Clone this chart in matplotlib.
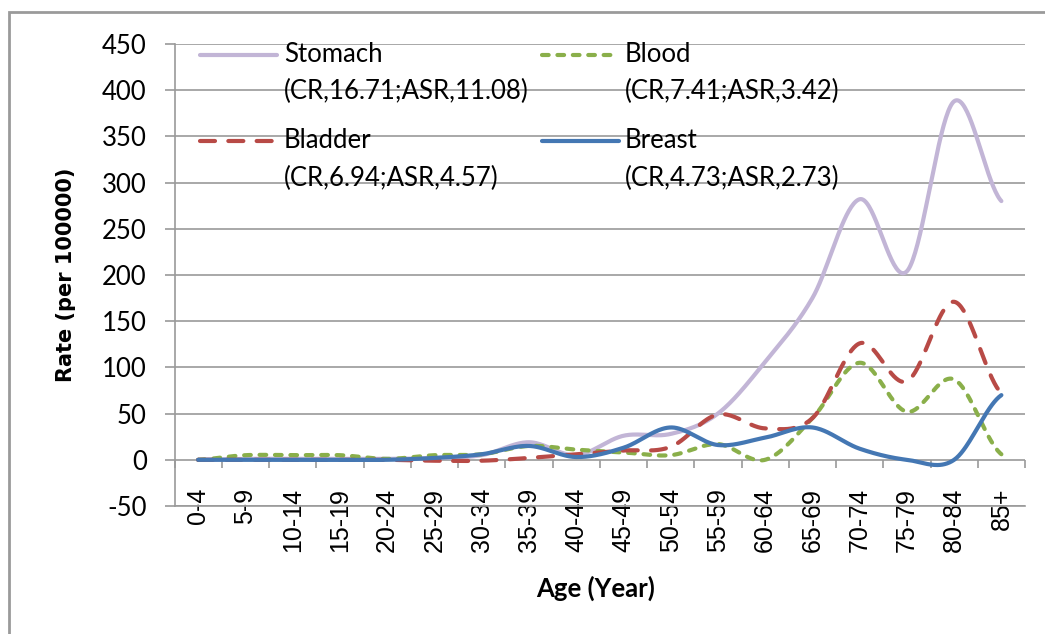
import numpy as np
import matplotlib
matplotlib.use("Agg")
import matplotlib.pyplot as plt
from matplotlib.lines import Line2D
from matplotlib.patches import Rectangle

# ---------------- data ----------------
ages = ["0-4", "5-9", "10-14", "15-19", "20-24", "25-29", "30-34", "35-39",
        "40-44", "45-49", "50-54", "55-59", "60-64", "65-69", "70-74",
        "75-79", "80-84", "85+"]
stomach = [0, 1, 1, 1, 1, 2, 5, 19, 5, 26, 28, 50, 106, 175, 282, 204, 388, 280]
blood = [0, 5, 5, 5, 1, 5, 6, 15, 11, 8, 5, 17, 0, 45, 105, 52, 87, 6]
bladder = [0, 0, 0, 0, 0, -1, -1, 2, 6, 10, 14, 49, 34, 45, 126, 85, 171, 72]
breast = [0, 0, 0, 0, 0, 2, 6, 15, 3, 13, 35, 16, 24, 35, 12, 0, 0, 70]

series_names = ["Stomach", "Blood", "Bladder", "Breast"]
series_stats = ["(CR,16.71;ASR,11.08)", "(CR,7.41;ASR,3.42)",
                "(CR,6.94;ASR,4.57)", "(CR,4.73;ASR,2.73)"]
y_ticks = list(range(-50, 451, 50))

# ---------------- styles ----------------
GRID = "#9A9A9A"
styles = {
    "Stomach": dict(color="#C2B5D6", dashes=None),
    "Blood": dict(color="#8AAF4A", dashes=(1.6, 2.1)),
    "Bladder": dict(color="#B84A46", dashes=(3.6, 3.2)),
    "Breast": dict(color="#4477B3", dashes=None),
}
LW = 3.0
TICK_FONT = "Lato"
XTICK_FONT = "Liberation Sans"


def smooth(vals, n=40):
    """Catmull-Rom style smoothing like Excel's smoothed line."""
    y = np.asarray(vals, float)
    ext = np.concatenate([[y[0]], y, [y[-1]]])
    xs, ys = [], []
    t = np.linspace(0, 1, n, endpoint=False)
    h00 = 2 * t**3 - 3 * t**2 + 1
    h10 = t**3 - 2 * t**2 + t
    h01 = -2 * t**3 + 3 * t**2
    h11 = t**3 - t**2
    for i in range(len(y) - 1):
        p0, p1, p2, p3 = ext[i], ext[i + 1], ext[i + 2], ext[i + 3]
        m1 = (p2 - p0) / 2.0
        m2 = (p3 - p1) / 2.0
        ys.append(h00 * p1 + h10 * m1 + h01 * p2 + h11 * m2)
        xs.append(i + t)
    xs.append([len(y) - 1])
    ys.append([y[-1]])
    return np.concatenate(xs), np.concatenate(ys)


W, H = 1045, 634
fig = plt.figure(figsize=(W / 100, H / 100), dpi=100)
left_px, right_px, top_px, bot_px = 174.5, 1025, 44, 506
ax = fig.add_axes([left_px / W, 1 - bot_px / H,
                   (right_px - left_px) / W, (bot_px - top_px) / H])

x = np.arange(len(ages))
data = {"Stomach": stomach, "Blood": blood, "Bladder": bladder, "Breast": breast}
for name in series_names:
    st = styles[name]
    sx, sy = smooth(data[name])
    line, = ax.plot(sx, sy, color=st["color"], lw=LW, solid_capstyle="round",
                    dash_capstyle="round", zorder=3)
    if st["dashes"] is not None:
        line.set_dashes(st["dashes"])

ax.set_xlim(-0.5, len(ages) - 0.5)
ax.set_ylim(y_ticks[0], y_ticks[-1])
ax.set_yticks(y_ticks)
ax.set_yticklabels([str(v) for v in y_ticks], fontfamily=TICK_FONT, fontsize=18.5)
ax.set_xticks(x)
ax.set_xticklabels(ages, rotation=90, fontfamily=XTICK_FONT, fontsize=18,
                   rotation_mode="anchor", ha="right", va="center")
ax.tick_params(axis="x", length=0, pad=-13, colors="black")
ax.tick_params(axis="y", length=7.5, width=1.2, color=GRID, pad=12.5)
ax.grid(axis="y", color=GRID, lw=1.2, zorder=0)
ax.set_axisbelow(True)
for s in ["top", "right"]:
    ax.spines[s].set_visible(False)
for s in ["left", "bottom"]:
    ax.spines[s].set_color(GRID)
    ax.spines[s].set_linewidth(1.2)

# category tick marks on the zero line
zero_loc = (0 - y_ticks[0]) / (y_ticks[-1] - y_ticks[0])
sec = ax.secondary_xaxis(zero_loc)
sec.set_xticks(np.arange(-0.5, len(ages), 1.0))
sec.tick_params(axis="x", length=6, width=1.2, color=GRID, labelbottom=False,
                direction="out")
sec.spines["bottom"].set_visible(False)

# axis labels
ax.set_ylabel("Rate (per 100000)", fontfamily="DejaVu Sans", fontweight="bold",
              fontsize=15)
ax.yaxis.set_label_coords((66 - left_px) / (right_px - left_px), 0.5)
ax.yaxis.label.set_va("center")
ax.set_xlabel("Age (Year)", fontfamily=TICK_FONT, fontweight="bold", fontsize=18.5)
ax.xaxis.set_label_coords((596 - left_px) / (right_px - left_px),
                          (bot_px - 588) / (bot_px - top_px))
ax.xaxis.label.set_va("center")


def ax_x(px):
    return (px - left_px) / (right_px - left_px)


def ax_y(py):
    return (bot_px - py) / (bot_px - top_px)


# legend (two columns, label over two lines, handle beside the first line)
leg_cols = [(200, 277, 284), (542, 619, 625)]
leg_rows = [(55, 91), (141, 178)]
for k, name in enumerate(series_names):
    col = leg_cols[k % 2]
    row = leg_rows[k // 2]
    st = styles[name]
    h = Line2D([ax_x(col[0]), ax_x(col[1])], [ax_y(row[0])] * 2,
               transform=ax.transAxes, color=st["color"], lw=LW,
               solid_capstyle="round", dash_capstyle="round", clip_on=False,
               zorder=4)
    if st["dashes"] is not None:
        h.set_dashes(st["dashes"])
    ax.add_line(h)
    ax.text(ax_x(col[2]), ax_y(row[0]), name, transform=ax.transAxes,
            fontfamily=TICK_FONT, fontsize=18.5, va="center", ha="left")
    ax.text(ax_x(col[2]), ax_y(row[1]), series_stats[k], transform=ax.transAxes,
            fontfamily=TICK_FONT, fontsize=18.5, va="center", ha="left")

# outer chart border
fig.patches.append(Rectangle((9 / W, -0.1), 1.2, (H - 11.5) / H + 0.1,
                             transform=fig.transFigure, fill=False,
                             ec="#9A9A9A", lw=2.0))

fig.savefig("out.png", dpi=100)
